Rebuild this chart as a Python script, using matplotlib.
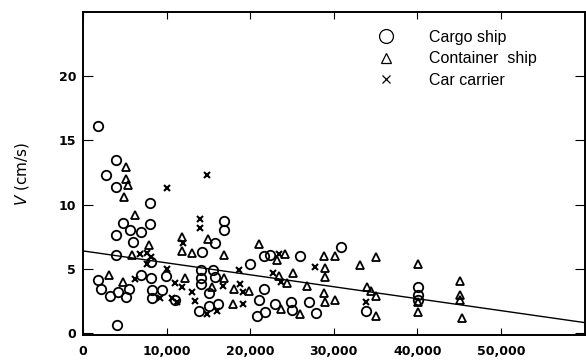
import numpy as np
import matplotlib
matplotlib.use("Agg")
import matplotlib.pyplot as plt

# x values in thousands (GT), y values V (cm/s)
cargo_x = [1.8, 4.0, 2.8, 3.95, 8.0, 4.8, 8.0, 5.6, 7.0, 4.0, 6.0, 4.0, 8.1,
           1.8, 2.2, 3.2, 4.2, 5.5, 5.1, 7.0, 8.1, 8.2, 9.4, 8.2, 4.1, 9.95,
           11.0, 14.2, 15.8, 16.9, 16.9, 14.1, 14.1, 14.1, 15.6, 15.8, 15.1,
           13.9, 15.1, 16.2, 20.0, 21.1, 21.6, 20.8, 21.8, 23.0, 24.9, 25.0,
           27.0, 27.9, 21.6, 22.4, 25.9, 30.9, 33.9, 40.1, 40.1, 40.1]
cargo_y = [16.1, 13.5, 12.3, 11.4, 10.1, 8.6, 8.5, 8.0, 7.9, 7.6, 7.1, 6.1, 5.5,
           4.1, 3.4, 2.9, 3.2, 3.4, 2.8, 4.5, 4.3, 3.35, 3.35, 2.75, 0.6, 4.45,
           2.6, 6.3, 7.0, 8.7, 8.0, 4.9, 4.3, 3.8, 4.95, 4.4, 3.1,
           1.7, 2.1, 2.3, 5.4, 2.6, 3.4, 1.3, 1.65, 2.3, 2.45, 1.8,
           2.45, 1.55, 6.0, 6.1, 6.0, 6.7, 1.75, 3.6, 3.0, 2.6]

container_x = [5.2, 5.1, 5.4, 4.9, 6.2, 7.9, 5.9, 3.15, 4.8, 12.2, 11.9, 11.9,
               13.0, 15.0, 16.9, 15.4, 16.9, 17.9, 18.1, 19.9, 21.0, 23.2,
               24.2, 23.4, 24.4, 25.1, 26.8, 23.7, 25.9, 28.8, 30.1, 29.0,
               28.9, 28.8, 28.9, 30.1, 33.1, 35.1, 34.0, 34.4, 35.1, 35.0,
               40.1, 40.1, 40.1, 45.1, 45.1, 45.1, 45.3]
container_y = [12.9, 12.0, 11.5, 10.6, 9.2, 6.85, 6.1, 4.5, 4.0, 4.3, 7.5, 6.4,
               6.25, 7.3, 6.1, 3.6, 4.3, 2.3, 3.45, 3.25, 6.9, 5.7,
               6.15, 4.45, 3.9, 4.7, 3.7, 1.9, 1.45, 6.0, 6.0, 5.05,
               4.35, 3.15, 2.45, 2.6, 5.3, 5.95, 3.6, 3.3, 2.9, 1.35,
               5.35, 2.45, 1.65, 4.05, 3.0, 2.55, 1.15]

car_x = [10.0, 14.8, 14.0, 14.0, 6.8, 7.6, 8.1, 7.7, 6.2, 9.2, 10.0, 11.0, 11.8,
         10.6, 11.2, 13.0, 13.4, 14.8, 16.0, 16.8, 18.8, 19.1, 19.1, 18.7,
         22.7, 23.7, 23.4, 27.7, 33.8, 12.0]
car_y = [11.3, 12.3, 8.9, 8.2, 6.15, 6.2, 5.9, 5.4, 4.2, 2.7, 5.0, 3.9, 3.6,
         2.7, 2.4, 3.2, 2.5, 1.5, 1.7, 3.7, 3.85, 3.2, 2.3, 4.9,
         4.65, 4.0, 6.15, 5.15, 2.4, 7.0]

# regression line V = a + b * x (x in thousands)
fit_a = 6.4
fit_b = -0.093

x_ticks = [0, 10, 20, 30, 40, 50]
x_labels = ["0", "10,000", "20,000", "30,000", "40,000", "50,000"]
y_ticks = [0, 5, 10, 15, 20]

fig = plt.figure(figsize=(5.86, 3.63), dpi=100)
ax = fig.add_axes([0.1416, 0.077, 0.856, 0.89])

mk = dict(linestyle="none", color="black", markerfacecolor="none")
ax.plot(cargo_x, cargo_y, marker="o", markersize=6.8, markeredgewidth=1.3, **mk)
ax.plot(container_x, container_y, marker="^", markersize=5.8, markeredgewidth=1.3, **mk)
ax.plot(car_x, car_y, marker="x", markersize=4.5, markeredgewidth=1.5, **mk)

xl = np.array([0, 60])
ax.plot(xl, fit_a + fit_b * xl, color="black", linewidth=1.0)

ax.set_xlim(0, 60)
ax.set_ylim(-0.15, 25)
ax.set_xticks(x_ticks)
ax.set_xticklabels(x_labels, fontsize=9, fontweight="bold")
ax.set_yticks(y_ticks)
ax.set_yticklabels([str(t) for t in y_ticks], fontsize=9, fontweight="bold")
ax.tick_params(axis="x", direction="in", length=5, top=True, pad=7)
ax.tick_params(axis="y", direction="in", length=7, right=True, pad=5)
for s in ax.spines.values():
    s.set_linewidth(1.4)

ax.set_ylabel("$V$ (cm/s)", fontsize=11, labelpad=20)

# legend
handles = [
    plt.Line2D([], [], marker="o", markersize=10, markeredgewidth=0.9, **mk),
    plt.Line2D([], [], marker="^", markersize=7, markeredgewidth=0.9, **mk),
    plt.Line2D([], [], marker="x", markersize=6, markeredgewidth=0.9, **mk),
]
labels = ["Cargo ship", "Container  ship", "Car carrier"]
ax.legend(handles, labels, loc="upper left", bbox_to_anchor=(0.543, 0.99),
          frameon=False, handletextpad=1.7, labelspacing=0.42,
          prop={"family": "Liberation Sans", "size": 11.5})

fig.savefig("out.png", dpi=100)
